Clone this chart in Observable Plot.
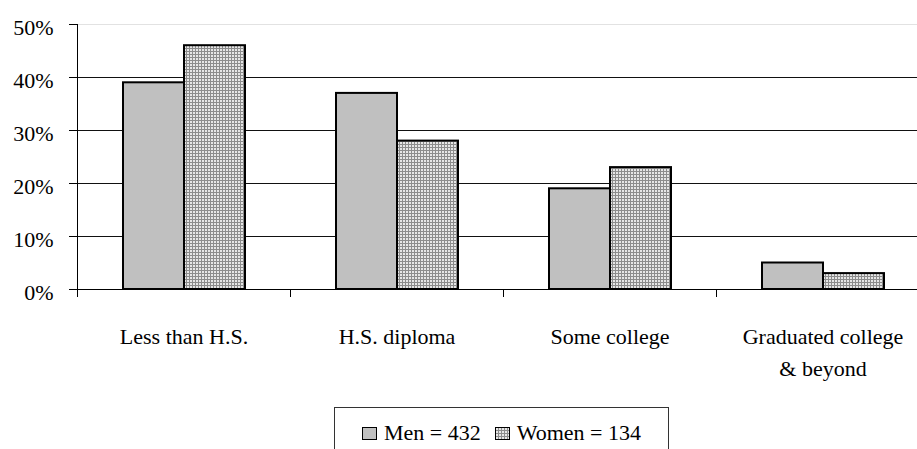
<!DOCTYPE html>
<html>
<head>
<meta charset="utf-8">
<script src="https://cdn.jsdelivr.net/npm/d3@7"></script>
<script src="https://cdn.jsdelivr.net/npm/@observablehq/plot@0.6"></script>
<style>
  html, body { margin: 0; padding: 0; background: #fff; overflow: hidden; width: 917px; height: 449px;
    font-family: 'Liberation Serif', serif; }
  #chart { position: relative; width: 917px; height: 449px; overflow: hidden; }
  #chart > svg { max-width: none !important; display: block; }
  .legend {
    position: absolute; left: 334px; top: 407px; width: 335px; height: 60px;
    border: 1px solid #333; box-sizing: border-box; background: #fff;
    font-family: 'Liberation Serif', serif; font-size: 22px; color: #000;
  }
  .legend .row { position: absolute; top: 13px; left: 0; right: 0; height: 24px; line-height: 24px;
    display: flex; align-items: center; justify-content: center; white-space: nowrap; }
  .legend .key { width: 15px; height: 13px; display: block; margin-right: 7px; }
  .legend .item { display: flex; align-items: center; }
  .legend .item + .item { margin-left: 14px; }
</style>
</head>
<body>
<div id="chart"></div>
<script>
// Educational attainment by sex (percent of each group)
const categories = ["Less than H.S.", "H.S. diploma", "Some college", "Graduated college\n& beyond"];
const series = ["Men", "Women"];
const menPct = [39, 37, 19, 5];
const womenPct = [46, 28, 23, 3];
const legendLabels = ["Men = 432", "Women = 134"];
const yTicks = [0, 10, 20, 30, 40, 50];

const rows = (values, group) => categories.map((cat, i) => ({cat, group, value: values[i]}));
const men = rows(menPct, series[0]);
const women = rows(womenPct, series[1]);

const width = 940, marginLeft = 77, marginRight = 11;
const bandwidth = (width - marginLeft - marginRight) / categories.length;

const plot = Plot.plot({
  width,
  height: 400,
  marginLeft,
  marginRight,
  marginTop: 24,
  marginBottom: 111,
  style: {
    fontFamily: "'Liberation Serif', serif",
    fontSize: "22px",
    color: "#000",
    background: "transparent",
    overflow: "visible"
  },
  fx: {domain: categories, padding: 0, axis: null},
  x: {domain: series, paddingInner: 0, paddingOuter: 0.718, axis: null},
  y: {domain: [0, 50], axis: null},
  marks: [
    // horizontal gridlines: faint top border, dark interior lines (repeated across the groups)
    Plot.ruleY([yTicks[yTicks.length - 1]], {stroke: "#e2e2e2"}),
    Plot.ruleY(yTicks.slice(1, -1), {stroke: "#111"}),
    Plot.barY(men, {fx: "cat", x: "group", y: "value", fill: "#c0c0c0", stroke: "#000", strokeWidth: 2}),
    Plot.barY(women, {fx: "cat", x: "group", y: "value", fill: "url(#women-grid)", stroke: "#000", strokeWidth: 2}),
    Plot.ruleY([0], {stroke: "#000"}),
    Plot.frame({anchor: "left", facet: "super", stroke: "#000"}),
    // y axis: tick marks, then labels
    Plot.axisY({ticks: yTicks, text: null, tickSize: 8, label: null}),
    Plot.axisY({ticks: yTicks, tickFormat: d => d + "%", tickSize: 0, tickPadding: 24, dy: 3, label: null}),
    // category labels centred under each group, tick marks on the group boundaries
    Plot.axisFx({anchor: "bottom", tickSize: 0, tickPadding: 32, lineHeight: 1.45, label: null}),
    Plot.axisFx({anchor: "bottom", text: null, tickSize: 8, dx: -bandwidth / 2, label: null})
  ]
});

// cross-hatched fill for the women's bars
const defs = d3.select(plot).insert("defs", ":first-child");
const pat = defs.append("pattern")
  .attr("id", "women-grid").attr("width", 3).attr("height", 3)
  .attr("patternUnits", "userSpaceOnUse");
pat.append("rect").attr("width", 3).attr("height", 3).attr("fill", "#e6e6e6");
pat.append("path").attr("d", "M0 0.5H3M0.5 0V3").attr("stroke", "#8c8c8c").attr("stroke-width", 1);

const chart = document.getElementById("chart");
chart.appendChild(plot);

// legend box
const legend = d3.select(chart).append("div").attr("class", "legend");
const row = legend.append("div").attr("class", "row");
const fills = ["#c0c0c0", "url(#women-grid)"];
legendLabels.forEach((label, i) => {
  const item = row.append("div").attr("class", "item");
  const key = item.append("svg").attr("class", "key").attr("width", 15).attr("height", 13);
  key.append("rect").attr("x", 0.5).attr("y", 0.5).attr("width", 14).attr("height", 12)
    .attr("fill", fills[i]).attr("stroke", "#000").attr("stroke-width", 1);
  item.append("span").text(label);
});
</script>
</body>
</html>
